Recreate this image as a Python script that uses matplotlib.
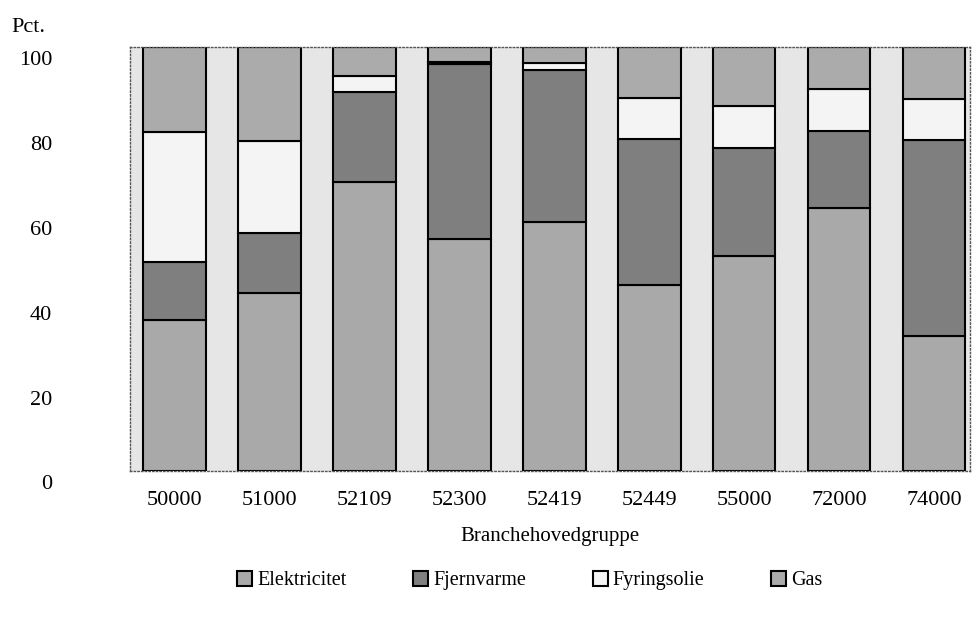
import matplotlib.pyplot as plt
import matplotlib.transforms as mtransforms
import numpy as np

branche = ["50000", "51000", "52109", "52300", "52419", "52449", "55000", "72000", "74000"]
elektricitet = [35.6, 42.0, 68.2, 54.8, 58.7, 44.0, 50.8, 62.1, 32.0]
fjernvarme = [13.8, 14.2, 21.2, 41.3, 35.8, 34.4, 25.3, 18.2, 46.0]
fyringsolie = [30.5, 21.6, 3.7, 0.3, 1.8, 9.6, 10.1, 9.7, 9.8]
gas = [20.1, 22.2, 6.9, 3.6, 3.7, 12.0, 13.8, 10.0, 12.2]

plt.rcParams['font.family'] = ['Liberation Serif', 'DejaVu Serif']

fig = plt.figure(figsize=(9.72, 6.19), dpi=100)
ax = fig.add_axes([0.1337, 0.2383, 0.8643, 0.6857])
ax.set_facecolor('#e6e6e6')

x = np.arange(len(branche))
serier = [("Elektricitet", elektricitet, '#a9a9a9'),
          ("Fjernvarme", fjernvarme, '#7f7f7f'),
          ("Fyringsolie", fyringsolie, '#f4f4f4'),
          ("Gas", gas, '#ababab')]

bund = np.zeros(len(branche))
for navn, vaerdier, farve in serier:
    ax.bar(x, vaerdier, bottom=bund, width=0.66, color=farve,
           edgecolor='black', linewidth=1.5, label=navn, zorder=2)
    bund += np.array(vaerdier)

ax.set_xlim(-0.47, 8.38)
ax.set_ylim(0, 100)
ax.set_yticks([0, 20, 40, 60, 80, 100])
ax.set_xticks(x)
ax.set_xticklabels(branche)
ax.tick_params(axis='both', length=0, labelsize=16)
ax.tick_params(axis='y', pad=56)
ax.tick_params(axis='x', pad=14)

# y-tal sidder lidt under deres linje i originalen
forskyd = mtransforms.ScaledTranslation(0, -11 / 100, fig.dpi_scale_trans)
for lbl in ax.get_yticklabels():
    lbl.set_transform(lbl.get_transform() + forskyd)

for s in ax.spines.values():
    s.set_color('#555555')
    s.set_linewidth(1)
    s.set_linestyle(':')

ax.set_xlabel("Branchehovedgruppe", fontsize=15, labelpad=12)
fig.text(0.012, 0.955, "Pct.", fontsize=16, va='center', ha='left')

fig.legend(loc='center', bbox_to_anchor=(0.545, 0.062), ncol=4, frameon=False,
           fontsize=14.5, handlelength=0.75, handleheight=0.75, handletextpad=0.25,
           columnspacing=3.3)

fig.savefig("out.png", dpi=100)
